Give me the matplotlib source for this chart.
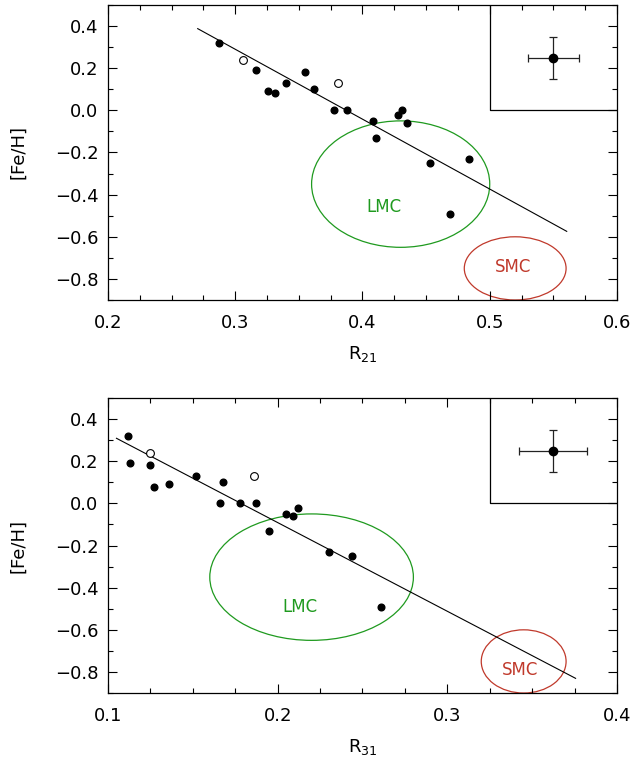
import numpy as np
import matplotlib
matplotlib.use('Agg')
import matplotlib.pyplot as plt
from matplotlib.patches import Ellipse
from matplotlib.ticker import MultipleLocator

# [Fe/H] of the stars and their Fourier parameters
feh = [0.32, 0.24, 0.19, 0.18, 0.13, 0.13, 0.10, 0.09, 0.08, 0.00,
       0.00, 0.00, -0.02, -0.05, -0.06, -0.13, -0.23, -0.25, -0.49]
r21 = [0.287, 0.306, 0.316, 0.355, 0.340, 0.381, 0.362, 0.326, 0.331, 0.378,
       0.388, 0.431, 0.428, 0.408, 0.435, 0.411, 0.484, 0.453, 0.469]
r31 = [0.112, 0.125, 0.113, 0.125, 0.152, 0.186, 0.168, 0.136, 0.127, 0.166,
       0.178, 0.187, 0.212, 0.205, 0.209, 0.195, 0.230, 0.244, 0.261]
is_open = [False, True, False, False, False, True, False, False, False, False,
           False, False, False, False, False, False, False, False, False]

# linear fits [Fe/H] = a + b*R and the range over which they are drawn
fit21 = (1.285, -3.317)
fit21_range = (0.2705, 0.5605)
fit31 = (0.751, -4.21)
fit31_range = (0.105, 0.3756)

# LMC / SMC regions: centre x, centre y, width, height
lmc21 = (0.43, -0.35, 0.14, 0.6)
smc21 = (0.52, -0.75, 0.08, 0.3)
lmc31 = (0.22, -0.35, 0.12, 0.6)
smc31 = (0.345, -0.75, 0.05, 0.3)

# typical error bars
err_feh = 0.1
err_r = 0.02

green = '#1f9a1f'
red = '#c0392b'
plt.rcParams['font.family'] = 'DejaVu Sans'
plt.rcParams['font.size'] = 13


def panel(ax, r, fit, fit_range, lmc, smc, xlim, xlabel, lmc_txt, smc_txt, box_x0):
    r = np.array(r)
    y = np.array(feh)
    op = np.array(is_open)
    ax.plot(r[~op], y[~op], 'o', color='k', ms=4.8, zorder=3)
    ax.plot(r[op], y[op], 'o', mfc='white', mec='k', mew=0.8, ms=5.6, zorder=3)

    xf = np.array(fit_range)
    ax.plot(xf, fit[0] + fit[1]*xf, color='k', lw=0.8)

    for e, c, txt in ((lmc, green, lmc_txt), (smc, red, smc_txt)):
        ax.add_patch(Ellipse((e[0], e[1]), e[2], e[3], fill=False, ec=c, lw=0.9))
        ax.text(txt[0], txt[1], txt[2], color=c, ha='center', va='center', fontsize=12)

    # error box in the corner
    ax.plot([box_x0, box_x0, xlim[1]], [0.5, 0.0, 0.0], color='k', lw=0.9)
    xc = (box_x0 + xlim[1])/2
    ax.errorbar(xc, 0.25, xerr=err_r, yerr=err_feh, fmt='o', color='k', ms=6,
                ecolor='#222222', elinewidth=0.9, capsize=3, capthick=0.9)

    ax.set_xlim(xlim)
    ax.set_ylim(-0.9, 0.5)
    ax.xaxis.set_major_locator(MultipleLocator(0.1))
    ax.xaxis.set_minor_locator(MultipleLocator(0.025))
    ax.yaxis.set_major_locator(MultipleLocator(0.2))
    ax.yaxis.set_minor_locator(MultipleLocator(0.1))
    ax.tick_params(which='both', direction='in', top=True, right=True, width=0.8)
    ax.tick_params(which='major', length=6.5, pad=7)
    ax.tick_params(axis='x', which='major', pad=10)
    ax.tick_params(which='minor', length=3.5)
    ax.xaxis.set_major_formatter(plt.FuncFormatter(lambda v, p: '%.1f' % v))
    ax.yaxis.set_major_formatter(plt.FuncFormatter(lambda v, p: ('%.1f' % v).replace('-', '\u2212')))
    for s in ax.spines.values():
        s.set_linewidth(0.9)
    ax.set_xlabel(xlabel, labelpad=9)
    ax.set_ylabel('[Fe/H]', labelpad=20)


fig = plt.figure(figsize=(6.36, 7.57), dpi=100)
ax1 = fig.add_axes([0.1698, 0.6037, 0.8003, 0.3897])
ax2 = fig.add_axes([0.1698, 0.0845, 0.8003, 0.3897])

panel(ax1, r21, fit21, fit21_range, lmc21, smc21, (0.2, 0.6), r'R$_{21}$',
      (0.417, -0.46, 'LMC'), (0.518, -0.745, 'SMC'), 0.5)
panel(ax2, r31, fit31, fit31_range, lmc31, smc31, (0.1, 0.4), r'R$_{31}$',
      (0.213, -0.49, 'LMC'), (0.343, -0.79, 'SMC'), 0.325)

fig.savefig('out.png', dpi=100)
